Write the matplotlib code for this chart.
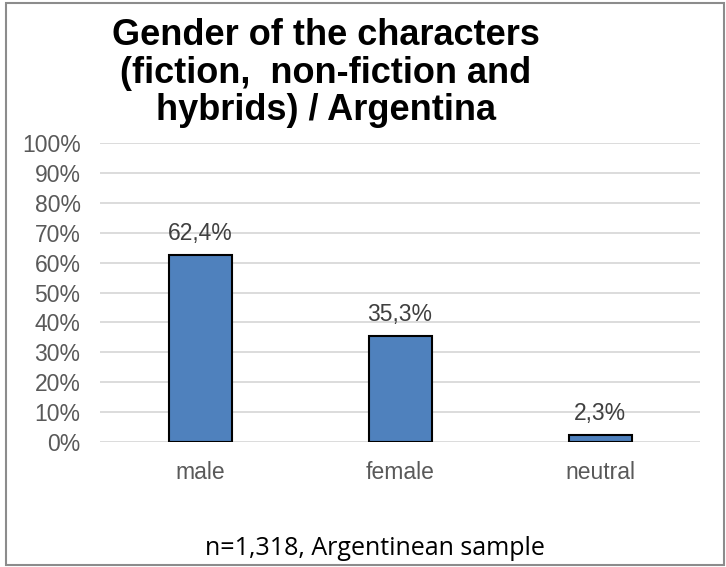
import matplotlib.pyplot as plt
from matplotlib.patches import Rectangle
from matplotlib.ticker import PercentFormatter

# data
genders = ["male", "female", "neutral"]
shares = [0.624, 0.353, 0.023]
share_labels = ["62,4%", "35,3%", "2,3%"]
y_ticks = [0.0, 0.1, 0.2, 0.3, 0.4, 0.5, 0.6, 0.7, 0.8, 0.9, 1.0]

plt.rcParams['font.family'] = ['Liberation Sans', 'DejaVu Sans']

fig = plt.figure(figsize=(7.26, 5.67), dpi=100)
ax = fig.add_axes([100 / 726, 1 - 442 / 567, 600 / 726, 299 / 567])

bars = ax.bar(genders, shares, width=0.315, color='#4F81BD',
              edgecolor='black', linewidth=1.5, zorder=3)

# value labels above the bars
for b, lab in zip(bars, share_labels):
    ax.annotate(lab, (b.get_x() + b.get_width() / 2, b.get_height()),
                xytext=(0, 11), textcoords='offset points',
                ha='center', va='baseline', fontsize=16.5, color='#404040')

ax.set_xlim(-0.5, 2.5)
ax.set_ylim(0, 1)
ax.set_yticks(y_ticks)
ax.yaxis.set_major_formatter(PercentFormatter(1.0, decimals=0))
ax.grid(axis='y', color='#D9D9D9', linewidth=1.3, zorder=0)
ax.grid(axis='x', visible=False)
for s in ax.spines.values():
    s.set_visible(False)
ax.tick_params(axis='both', length=0, labelsize=16.5, labelcolor='#595959')
ax.tick_params(axis='y', pad=14)
ax.tick_params(axis='x', pad=14)

fig.text(326 / 726, 1 - 18 / 567,
         "Gender of the characters\n(fiction,  non-fiction and\nhybrids) / Argentina",
         ha='center', va='top', fontsize=26, fontweight='bold',
         linespacing=1.1, color='black')

fig.text(375 / 726, 1 - 555 / 567, "n=1,318, Argentinean sample",
         ha='center', va='baseline', fontsize=18, color='black',
         family=['Open Sans', 'DejaVu Sans'])

# chart area border
fig.add_artist(Rectangle((6 / 726, 2 / 567), 718 / 726, 562 / 567,
                         transform=fig.transFigure, fill=False,
                         edgecolor='#8C8C8C', linewidth=1.5))

fig.savefig('out.png', dpi=100)
